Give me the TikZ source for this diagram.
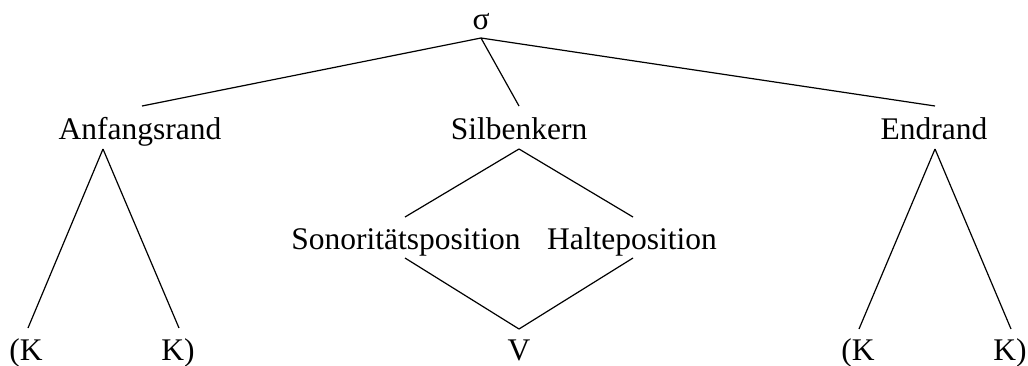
\documentclass[tikz,border=0pt]{standalone}
\usepackage{fontspec}
\setmainfont{Liberation Serif}
\usetikzlibrary{calc}
\begin{document}
\begin{tikzpicture}[
    x=0.5pt, y=-0.5pt,
    lbl/.style={anchor=base, inner sep=0pt, font=\fontsize{15.75}{18}\selectfont},
    edge/.style={line width=0.6pt}
]
    \useasboundingbox (0,0) rectangle (1028,365);

    \node[lbl] (syl) at (481,29) {σ};
    \node[lbl] (anf) at (140,139) {Anfangsrand};
    \node[lbl] (kern) at (519,139) {Silbenkern};
    \node[lbl] (end) at (934,139) {Endrand};
    \node[lbl] (son) at (406,249) {Sonoritätsposition};
    \node[lbl] (halt) at (632,249) {Halteposition};
    \node[lbl] (k1) at (26,360) {(K};
    \node[lbl] (k2) at (178,360) {K)};
    \node[lbl] (v) at (519,360) {V};
    \node[lbl] (k3) at (858,360) {(K};
    \node[lbl] (k4) at (1010,360) {K)};

    \draw[edge] ($(syl.base)+(0,9)$) -- ($(anf.base)+(2,-33)$);
    \draw[edge] ($(syl.base)+(0,9)$) -- ($(kern.base)+(0,-33)$);
    \draw[edge] ($(syl.base)+(0,9)$) -- ($(end.base)+(1,-33)$);

    \draw[edge] ($(anf.base)+(-37,10)$) -- ($(k1.base)+(2,-32)$);
    \draw[edge] ($(anf.base)+(-37,10)$) -- ($(k2.base)+(1,-32)$);

    \draw[edge] ($(kern.base)+(0,10)$) -- ($(son.base)+(-1,-32)$);
    \draw[edge] ($(kern.base)+(0,10)$) -- ($(halt.base)+(1,-32)$);
    \draw[edge] ($(son.base)+(-1,9)$) -- ($(v.base)+(0,-31)$);
    \draw[edge] ($(halt.base)+(1,9)$) -- ($(v.base)+(0,-31)$);

    \draw[edge] ($(end.base)+(1,10)$) -- ($(k3.base)+(1,-31)$);
    \draw[edge] ($(end.base)+(1,10)$) -- ($(k4.base)+(1,-31)$);
\end{tikzpicture}
\end{document}
